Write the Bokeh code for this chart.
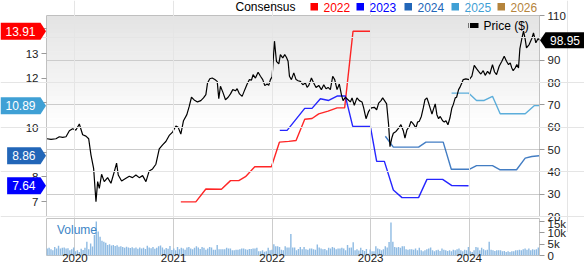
import numpy as np
from bokeh.plotting import figure
from bokeh.layouts import column, row
from bokeh.models import Range1d, LinearAxis, FixedTicker, Grid, Label, PolyAnnotation
from bokeh.core.properties import value
from bokeh.embed import file_html
from bokeh.resources import INLINE

FONT = "Liberation Sans"

# ---------------- data ----------------
year_ticks = [2020, 2021, 2022, 2023, 2024]
price_ticks = [20, 30, 40, 50, 60, 70, 80, 90, 100, 110]
eps_ticks = [7, 8, 9, 10, 11, 12, 13, 14]
vol_ticks = [0, 5, 10, 15]
vol_tick_labels = ["0", "5k", "10k", "15k"]

price_t = [2019.716, 2019.757, 2019.807, 2019.841, 2019.875, 2019.909, 2019.943, 2019.976, 2020.010, 2020.044,
           2020.078, 2020.111, 2020.139, 2020.162, 2020.189, 2020.213, 2020.230, 2020.247, 2020.270, 2020.297,
           2020.331, 2020.365, 2020.399, 2020.422, 2020.439, 2020.473, 2020.517, 2020.551, 2020.584, 2020.618,
           2020.652, 2020.686, 2020.720, 2020.753, 2020.787, 2020.821, 2020.855, 2020.889, 2020.922, 2020.956,
           2020.990, 2021.024, 2021.047, 2021.074, 2021.101, 2021.135, 2021.159, 2021.182, 2021.209, 2021.243,
           2021.277, 2021.304, 2021.328, 2021.345, 2021.368,
           2021.392, 2021.419, 2021.443, 2021.459, 2021.476, 2021.500, 2021.527, 2021.554, 2021.578, 2021.601,
           2021.628, 2021.645, 2021.669, 2021.696, 2021.723, 2021.747, 2021.770, 2021.791, 2021.807, 2021.831,
           2021.858, 2021.882, 2021.905, 2021.926, 2021.949, 2021.966, 2021.983, 2022.000, 2022.024, 2022.044,
           2022.068, 2022.084, 2022.108, 2022.128, 2022.145, 2022.162, 2022.176, 2022.196, 2022.220, 2022.243,
           2022.264, 2022.287, 2022.311, 2022.338, 2022.355, 2022.372, 2022.399, 2022.422, 2022.446, 2022.473,
           2022.500, 2022.524, 2022.547, 2022.568, 2022.591, 2022.615, 2022.635, 2022.659, 2022.682, 2022.703,
           2022.720, 2022.743, 2022.770, 2022.794, 2022.811, 2022.834, 2022.861, 2022.885, 2022.912, 2022.929,
           2022.953, 2022.980, 2023.007, 2023.037,
           2023.061, 2023.081, 2023.105, 2023.122, 2023.149, 2023.162, 2023.182, 2023.196, 2023.216, 2023.230,
           2023.257, 2023.284, 2023.307, 2023.331, 2023.348, 2023.368, 2023.392, 2023.409, 2023.426, 2023.443,
           2023.459, 2023.476, 2023.493, 2023.514, 2023.534, 2023.551, 2023.571, 2023.588, 2023.605, 2023.622,
           2023.639, 2023.655, 2023.672, 2023.689, 2023.706, 2023.730, 2023.747, 2023.764, 2023.784, 2023.804,
           2023.824, 2023.838, 2023.858, 2023.872, 2023.892, 2023.905, 2023.926, 2023.939, 2023.966, 2024.000,
           2024.027, 2024.051, 2024.074, 2024.095, 2024.118, 2024.142, 2024.162, 2024.186, 2024.209, 2024.236,
           2024.257, 2024.277, 2024.304, 2024.331, 2024.355, 2024.378, 2024.399, 2024.416, 2024.432, 2024.446,
           2024.466, 2024.483, 2024.500, 2024.514, 2024.534, 2024.551, 2024.568, 2024.581, 2024.608, 2024.635,
           2024.652, 2024.676, 2024.699, 2024.712]
price_v = [54.8, 54.5, 54.8, 55.7, 55.4, 55.7, 58.4, 59.3, 58.7, 61.4,
           56.6, 56.0, 54.8, 47.6, 41.6, 26.6, 35.6, 32.6, 38.9, 35.6,
           37.4, 34.9, 40.1, 43.9, 38.6, 35.9, 37.1, 38.0, 37.4, 38.6,
           37.4, 38.3, 35.6, 40.4, 41.3, 43.4, 50.3, 52.1, 53.6, 56.3,
           57.8, 60.5, 59.9, 56.9, 62.9, 65.6, 69.3, 73.4, 72.2, 71.3,
           71.9, 73.1, 74.6, 79.8, 81.7,
           82.0, 81.3, 80.5, 72.8, 78.3, 75.7, 72.3, 73.4, 74.9, 76.8,
           76.3, 77.2, 74.9, 73.8, 76.8, 79.3, 81.3, 81.1, 83.5, 82.0,
           84.6, 82.8, 81.3, 78.6, 79.3, 78.7, 81.3, 82.6, 98.5, 89.5,
           88.3, 92.5, 91.0, 92.5, 91.3, 89.5, 82.8, 81.3, 84.3, 81.3,
           80.8, 80.5, 79.0, 79.8, 77.8, 78.7, 82.0, 79.8, 77.8, 78.7,
           76.8, 79.0, 77.2, 77.8, 76.8, 82.8, 81.3, 76.8, 79.3, 74.6,
           71.9, 73.4, 72.3, 71.3, 73.1, 69.8, 73.1, 71.9, 71.3, 68.6,
           63.8, 67.1, 68.6, 68.9,
           67.8, 70.8, 71.9, 73.1, 71.3, 70.4, 61.1, 51.3, 55.4, 57.3,
           58.1, 59.6, 61.1, 58.4, 55.1, 58.8, 60.3, 62.6, 61.8, 60.8,
           59.6, 62.3, 62.6, 64.8, 68.6, 72.3, 73.1, 70.8, 68.3, 65.9,
           68.3, 70.4, 65.6, 63.8, 64.8, 62.9, 62.3, 62.9, 61.1, 64.1,
           68.6, 70.1, 73.1, 73.4, 76.8, 77.8, 79.9, 81.3, 81.6, 81.3,
           82.8, 87.7, 86.2, 85.0, 83.8, 85.3, 83.2, 85.0, 83.8, 88.0,
           84.7, 83.5, 87.3, 89.5, 91.8, 89.5, 88.0, 88.8, 86.5, 85.3,
           86.5, 88.0, 86.5, 95.2, 99.7, 103.0, 99.3, 95.5, 97.0, 99.7,
           102.2, 97.8, 99.7, 98.95]

cons_2022_t = [2021.074, 2021.226, 2021.328, 2021.486, 2021.578, 2021.662, 2021.730, 2021.824, 2021.993,
               2022.074, 2022.169, 2022.243, 2022.331, 2022.405, 2022.473, 2022.568, 2022.659, 2022.736,
               2022.821, 2022.997]
cons_2022_v = [6.99, 6.99, 7.51, 7.50, 7.85, 7.85, 8.01, 8.41, 8.41,
               9.41, 9.44, 9.48, 10.34, 10.37, 10.56, 10.67, 10.80, 10.80,
               13.91, 13.91]
cons_2023_t = [2022.078, 2022.152, 2022.331, 2022.405, 2022.490, 2022.574, 2022.659, 2022.743, 2022.818,
               2022.997, 2023.061, 2023.139, 2023.230, 2023.318, 2023.486, 2023.571, 2023.730, 2023.824,
               2023.993]
cons_2023_v = [9.89, 9.89, 10.78, 10.78, 11.17, 11.10, 11.28, 11.28, 10.05,
               10.05, 8.63, 8.63, 7.47, 7.16, 7.16, 7.90, 7.90, 7.65,
               7.64]
cons_2024_t = [2023.149, 2023.230, 2023.486, 2023.561, 2023.736, 2023.818, 2024.000, 2024.074, 2024.236,
               2024.314, 2024.480, 2024.568, 2024.635, 2024.709]
cons_2024_v = [9.65, 9.21, 9.21, 9.41, 9.41, 8.31, 8.31, 8.46, 8.46,
               8.29, 8.29, 8.76, 8.83, 8.86]
cons_2025_t = [2023.821, 2023.993, 2024.074, 2024.152, 2024.236, 2024.314, 2024.568, 2024.659, 2024.709]
cons_2025_v = [11.40, 11.40, 11.10, 11.10, 11.27, 10.56, 10.56, 10.89, 10.89]

legend_years = ["2022", "2023", "2024", "2025", "2026"]
legend_colors = ["#ff0000", "#0000ff", "#2266b8", "#3fa0d5", "#b5843c"]

# weekly volume (thousands), first bar = week of 2019-09-20
vol_first_week = 2019.718
vol_2019 = [3.1, 3.4, 2.8, 2.3, 3.8, 3.1, 4.3, 3.1, 3.4, 3.5, 3.1, 3.2, 2.3, 2.8, 3.5]
vol_2020 = [1.9, 2.3, 1.6, 3.0, 2.4, 3.4, 6.1, 2.8, 5.3, 4.0, 9.1, 15.1, 10.6, 8.3, 6.5, 6.1, 5.6,
            4.6, 5.0, 4.4, 4.7, 4.2, 4.5, 3.9, 4.1, 3.8, 3.4, 3.9, 3.6, 3.3, 3.7, 3.2, 3.5, 3.0, 3.6,
            3.1, 3.4, 2.9, 4.3, 3.5, 3.2, 3.8, 3.0, 3.4, 4.1, 4.4, 3.6, 2.7, 3.3, 3.0, 4.2, 2.4]
vol_2021 = [3.1, 2.3, 3.8, 2.8, 3.4, 3.1, 2.6, 3.5, 3.8, 3.1, 2.8, 3.4, 4.1, 3.5, 2.9, 3.8, 3.4, 2.6, 3.1,
            3.8, 3.5, 2.6, 2.6, 4.6, 2.8, 2.8, 2.8, 2.8, 3.4, 3.1, 3.1, 2.3, 2.3, 2.6, 2.6, 2.8, 3.1,
            3.1, 2.8, 2.6, 2.9, 2.9, 3.1, 3.1, 3.4, 1.9, 1.9, 2.3, 1.7, 1.9, 3.4, 2.3, 2.6]
vol_2022 = [5.0, 4.1, 4.1, 3.8, 2.6, 2.3, 4.1, 3.6, 3.5, 9.5, 3.5, 3.5, 2.3, 2.9, 3.8, 2.8, 3.8, 2.8,
            2.6, 3.1, 3.1, 2.8, 2.6, 4.9, 3.5, 3.1, 2.8, 2.9, 2.3, 3.4, 3.1, 3.8, 3.4, 2.8, 3.1, 3.1,
            3.4, 3.1, 2.3, 4.7, 3.4, 3.5, 5.9, 2.3, 2.8, 2.2, 3.4, 2.4, 2.0, 2.9, 0.8, 2.7]
vol_2023 = [1.9, 1.9, 4.1, 3.1, 2.8, 2.3, 2.8, 4.1, 3.5, 6.0, 14.6, 6.1, 3.8, 3.5, 3.8, 3.4, 4.1,
            4.1, 2.8, 2.6, 2.8, 2.8, 2.6, 3.1, 2.3, 3.4, 2.3, 1.9, 2.3, 2.8, 3.1, 3.5, 2.3, 1.9,
            2.3, 2.6, 2.0, 3.1, 2.6, 2.3, 2.0, 2.3, 1.9, 2.6, 2.3, 2.8, 3.1, 2.3, 1.9, 2.6, 2.3, 3.8]
vol_2024 = [1.9, 1.6, 2.3, 3.8, 3.5, 2.3, 3.4, 2.8, 2.3, 2.6, 6.1, 2.6, 2.3, 2.0, 2.3, 2.3, 2.3,
            1.9, 2.0, 1.6, 1.9, 1.6, 1.9, 1.9, 2.3, 2.3, 2.6, 2.3, 2.8, 3.1, 2.6, 3.1, 2.3, 2.8,
            2.6, 2.8, 3.5]

# ---------------- geometry ----------------
W = 584
FRAME_L, FRAME_R, FRAME_T, FRAME_B = 46, 539, 15, 216
H_MAIN = FRAME_B + 16          # main figure extends below frame; volume panel overlaps it
VOL_OVERLAP = 15
H_VOL = 265 - (H_MAIN - VOL_OVERLAP)
X0, X1 = 2019.711, 2024.713
P0, P1 = 20, 110
E0, E1 = 6.395, 14.547
V0, V1 = 0, 16.4
PX_PER_YR = (FRAME_R - FRAME_L) / (X1 - X0)
P_PER_PX = (P1 - P0) / (FRAME_B - FRAME_T)
E_PER_PX = (E1 - E0) / (FRAME_B - FRAME_T)


def xd(px):
    return X0 + (px - FRAME_L) / PX_PER_YR


def yp(py):
    return P0 + (FRAME_B - py) * P_PER_PX


def ye(py):
    return E0 + (FRAME_B - py) * E_PER_PX


def text_w(s, size=12):
    return sum(0.556 if ch.isdigit() else 0.278 for ch in s) * size


GRID = "#cccccc"
BORDER = "#c4c4c4"

# ---------------- main panel ----------------
p = figure(width=W, height=H_MAIN, x_range=Range1d(X0, X1), y_range=Range1d(P0, P1),
           output_backend="svg", toolbar_location=None, x_axis_location=None,
           y_axis_location="right", min_border_left=FRAME_L, min_border_right=W - FRAME_R,
           min_border_top=FRAME_T, min_border_bottom=H_MAIN - FRAME_B,
           background_fill_color="white", border_fill_color="white",
           outline_line_color=BORDER)
p.extra_y_ranges = {"eps": Range1d(E0, E1)}

# background gradient (decoration): translucent grey bands fading to white
n_b = 26
edges = np.linspace(P1, 58, n_b + 1)
alphas = [0.105 * (1 - i / (n_b - 1)) for i in range(n_b)]
p.quad(left=[X0] * n_b, right=[X1] * n_b, top=list(edges[:-1]), bottom=list(edges[1:]),
       fill_color="black", fill_alpha=alphas, line_color=None, level="underlay")

ax_r = p.yaxis[0]
ax_r.ticker = FixedTicker(ticks=price_ticks)
ax_l = LinearAxis(y_range_name="eps", ticker=FixedTicker(ticks=eps_ticks))
p.add_layout(ax_l, "left")
for ax in (ax_r, ax_l):
    ax.axis_line_color = None
    ax.major_tick_line_color = "#999999"
    ax.major_tick_in = 0
    ax.major_tick_out = 5
    ax.minor_tick_line_color = None
    ax.major_label_text_font = FONT
    ax.major_label_text_font_size = "11.5px"
    ax.major_label_text_color = "#222222"
    ax.major_label_standoff = 3

p.ygrid.grid_line_color = GRID
p.add_layout(Grid(dimension=0, ticker=FixedTicker(ticks=year_ticks), grid_line_color=GRID))

for t, v, c in [(cons_2022_t, cons_2022_v, legend_colors[0]),
                (cons_2023_t, cons_2023_v, legend_colors[1]),
                (cons_2024_t, cons_2024_v, legend_colors[2]),
                (cons_2025_t, cons_2025_v, legend_colors[3])]:
    p.line(t, v, y_range_name="eps", line_color=c, line_width=1.4, line_alpha=0.85)

p.line(price_t, price_v, line_color="black", line_width=1.2)

# price legend (inside frame)
p.add_layout(PolyAnnotation(xs=[xd(468), xd(478), xd(478), xd(468)],
                            ys=[yp(22.5), yp(22.5), yp(27.5), yp(27.5)],
                            fill_color="black", fill_alpha=1, line_color=None))
p.add_layout(Label(x=xd(483), y=yp(25), text="Price ($)", text_align="left",
                   text_baseline="middle", text_color="black", text_font=FONT,
                   text_font_size="12px"))

# ---------------- overlay for value tags and top legend ----------------
ov = figure(width=W, height=H_MAIN, x_range=Range1d(xd(0), xd(W)),
            y_range=Range1d(yp(H_MAIN), yp(0)), output_backend="svg", toolbar_location=None,
            x_axis_location=None, y_axis_location=None, min_border=0, min_border_left=0,
            min_border_right=0, min_border_top=0, min_border_bottom=0,
            background_fill_color=None, border_fill_color=None, outline_line_color=None)
ov.extra_y_ranges = {"eps": Range1d(ye(H_MAIN), ye(0))}

tag_vals = [cons_2022_v[-1], cons_2025_v[-1], cons_2024_v[-1], cons_2023_v[-1]]
tag_cols = [legend_colors[0], legend_colors[3], legend_colors[2], legend_colors[1]]
txs, tys, lxs, ltx = [], [], [], []
hh = 8.5 * E_PER_PX
for val in tag_vals:
    s = "%.2f" % val
    right, tip = 40, 45.5
    left = max(0, right - text_w(s) - 10)
    txs.append([xd(left), xd(right), xd(tip), xd(right), xd(left)])
    tys.append([val + hh, val + hh, val, val - hh, val - hh])
    lxs.append(xd((left + right) / 2))
    ltx.append(s)
ov.patches(xs=txs, ys=tys, fill_color=tag_cols, line_color=None, y_range_name="eps")
ov.text(x=lxs, y=tag_vals, text=ltx, y_range_name="eps", text_color="white",
        text_font=value(FONT), text_font_size=value("12px"), text_align="center",
        text_baseline="middle")

last = price_v[-1]
hp = 8 * P_PER_PX
ov.patch(x=[xd(539.5), xd(545), xd(584), xd(584), xd(545)],
         y=[last, last + hp, last + hp, last - hp, last - hp], fill_color="black", line_color=None)
ov.text(x=[xd(564.5)], y=[last], text=["%.2f" % last], text_color="white",
        text_font=value(FONT), text_font_size=value("12px"), text_align="center",
        text_baseline="middle")

# top consensus legend
sq_x = [310, 356, 404, 451, 497]
ov.quad(left=[xd(x) for x in sq_x], right=[xd(x + 7.5) for x in sq_x],
        top=[yp(2.5)] * len(sq_x), bottom=[yp(10)] * len(sq_x),
        fill_color=legend_colors, line_color=None)
ov.text(x=[xd(235)] + [xd(x + 13) for x in sq_x], y=[yp(6.5)] * (len(sq_x) + 1),
        text=["Consensus"] + legend_years, text_color=["black"] + legend_colors,
        text_font=value(FONT), text_font_size=value("12px"), text_align="left",
        text_baseline="middle")

# ---------------- volume panel ----------------
vol_k = vol_2019 + vol_2020 + vol_2021 + vol_2022 + vol_2023 + vol_2024
week = 7 / 365.25
vol_x = [vol_first_week + i * week for i in range(len(vol_k))]

v = figure(width=W, height=H_VOL, x_range=p.x_range, y_range=Range1d(V0, V1),
           output_backend="svg", toolbar_location=None, y_axis_location="right",
           min_border_left=FRAME_L, min_border_right=W - FRAME_R, min_border_top=1,
           min_border_bottom=10, background_fill_color="white", border_fill_color=None,
           outline_line_color=BORDER, margin=(-VOL_OVERLAP, 0, 0, 0))
v.vbar(x=vol_x, top=vol_k, width=week * 0.75, fill_color="#8fbbe3", line_color=None)

v.xaxis.ticker = FixedTicker(ticks=year_ticks)
v.xaxis.axis_line_color = None
v.xaxis.major_tick_line_color = None
v.xaxis.minor_tick_line_color = None
v.xaxis.major_tick_out = 0
v.xaxis.major_tick_in = 0
v.xaxis.major_label_standoff = -2
v.xaxis.major_label_text_font = FONT
v.xaxis.major_label_text_font_size = "11.5px"
v.xaxis.major_label_text_color = "#222222"

v.yaxis.ticker = FixedTicker(ticks=vol_ticks)
v.yaxis.major_label_overrides = {t: s for t, s in zip(vol_ticks, vol_tick_labels)}
v.yaxis.axis_line_color = None
v.yaxis.major_tick_line_color = "#999999"
v.yaxis.major_tick_in = 0
v.yaxis.major_tick_out = 5
v.yaxis.minor_tick_line_color = None
v.yaxis.major_label_text_font = FONT
v.yaxis.major_label_text_font_size = "11.5px"
v.yaxis.major_label_text_color = "#222222"
v.yaxis.major_label_standoff = 3

v.xgrid.grid_line_color = GRID
v.ygrid.grid_line_color = None

v.add_layout(Label(x=xd(56.5), y=11.4, text="Volume", text_align="left", text_baseline="middle",
                   text_color="#3d85c6", text_font=FONT, text_font_size="12px"))

# the overlay sits in its own row so its frame is not aligned with the panels' frames
ov_box = row(ov, margin=(-H_MAIN, 0, 0, 0))
layout = column(p, ov_box, v, spacing=0)
open("out.html", "w").write(file_html(layout, INLINE))
